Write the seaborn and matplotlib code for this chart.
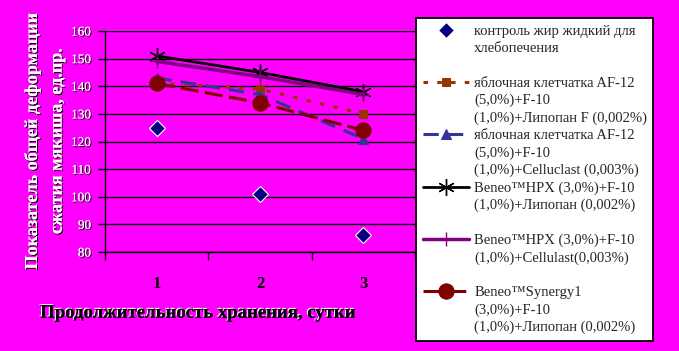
import matplotlib
matplotlib.use("Agg")
import matplotlib.pyplot as plt
import matplotlib.patheffects as pe
from matplotlib.lines import Line2D
import seaborn as sns

# Data
days = [1, 2, 3]
day_labels = ["1", "2", "3"]
control = [125, 101, 86]
af12_lipopan = [141, 139, 130]
af12_celluclast = [143, 137, 121]
hpx_lipopan = [151, 145, 138]
hpx_cellulast = [149, 143.5, 137]
synergy_lipopan = [141, 134, 124]

legend_lines = [
    ["контроль жир жидкий для", "хлебопечения", ""],
    ["яблочная клетчатка AF-12", "(5,0%)+F-10", "(1,0%)+Липопан F (0,002%)"],
    ["яблочная клетчатка AF-12", "(5,0%)+F-10", "(1,0%)+Celluclast (0,003%)"],
    ["Beneo™HPX (3,0%)+F-10", "(1,0%)+Липопан (0,002%)", ""],
    ["Beneo™HPX (3,0%)+F-10", "(1,0%)+Cellulast(0,003%)", ""],
    ["Beneo™Synergy1", "(3,0%)+F-10", "(1,0%)+Липопан (0,002%)"],
]

sns.set_style("white")
plt.rcParams["font.family"] = ["Liberation Serif", "DejaVu Serif"]

bg = "#FF00FF"
fig = plt.figure(figsize=(6.79, 3.51), dpi=100, facecolor=bg)
ax = fig.add_axes([0.1546, 0.282, 0.4566, 0.6297], facecolor=bg)

h = []
h.append(sns.lineplot(x=days, y=control, ax=ax, color="#000080", marker="D",
                      linestyle="none", markersize=8, markeredgecolor="white",
                      markeredgewidth=0.8).lines[-1])
h.append(sns.lineplot(x=days, y=af12_lipopan, ax=ax, color="#993300", marker="s",
                      markersize=6, lw=2.2, dashes=(1.5, 3),
                      markeredgecolor="#993300").lines[-1])
h.append(sns.lineplot(x=days, y=af12_celluclast, ax=ax, color="#333399", marker="^",
                      markersize=7, lw=2.2, dashes=(5, 3),
                      markeredgecolor="#333399").lines[-1])
h.append(sns.lineplot(x=days, y=hpx_lipopan, ax=ax, color="black", marker=(6, 2, 0),
                      markersize=12, lw=2, markeredgecolor="black",
                      markeredgewidth=1).lines[-1])
h.append(sns.lineplot(x=days, y=hpx_cellulast, ax=ax, color="#800080", marker="+",
                      markersize=10, lw=2.5, markeredgecolor="#800080",
                      markeredgewidth=1).lines[-1])
h.append(sns.lineplot(x=days, y=synergy_lipopan, ax=ax, color="#800000", marker="o",
                      markersize=11, lw=2.2, dashes=(6, 2),
                      markeredgecolor="#800000").lines[-1])

ax.set_xlim(0.5, 3.5)
ax.set_ylim(80, 160)
ax.set_yticks(range(80, 161, 10))
ax.set_xticks(days)
ax.set_xticklabels(day_labels)
ax.set_xticks([0.5, 1.5, 2.5, 3.5], minor=True)
ax.grid(axis="y", color="black", lw=1)
ax.set_axisbelow(True)
for s in ["top", "right"]:
    ax.spines[s].set_visible(False)
for s in ["left", "bottom"]:
    ax.spines[s].set_color("black")
    ax.spines[s].set_linewidth(1)
ax.tick_params(axis="x", which="major", length=0, pad=17, labelsize=12,
               labelcolor="black")
ax.tick_params(axis="x", which="minor", length=6, color="black", width=1,
               direction="out", bottom=True)
ax.tick_params(axis="y", length=5, color="black", width=1, direction="out",
               left=True, labelsize=9.5, labelcolor="white", pad=5)
for t in ax.get_xticklabels():
    t.set_fontweight("bold")
shadow_dark = [pe.withSimplePatchShadow(offset=(0.8, -0.8), shadow_rgbFace="black", alpha=1), pe.Normal()]
shadow_light = [pe.withSimplePatchShadow(offset=(-0.8, 0.8), shadow_rgbFace="white", alpha=1), pe.Normal()]
for t in ax.get_yticklabels():
    t.set_path_effects(shadow_dark)
ax.set_xlabel("")
ax.set_ylabel("")

fig.text(0.2916, 0.108, "Продолжительность хранения, сутки", ha="center",
         va="center", fontsize=13.5, fontweight="bold", color="black",
         path_effects=shadow_light)
fig.text(0.047, 0.595, "Показатель общей деформации", rotation=90, ha="center",
         va="center", fontsize=13, fontweight="bold", color="white",
         path_effects=shadow_dark)
fig.text(0.084, 0.595, "сжатия мякиша, ед.пр.", rotation=90, ha="center",
         va="center", fontsize=13, fontweight="bold", color="white",
         path_effects=shadow_dark)

# legend: one row per text line, handle on first line of each entry
blank = Line2D([], [], alpha=0)
handles, labels = [], []
for line, rows in zip(h, legend_lines):
    for i, txt in enumerate(rows):
        handles.append(line if i == 0 else blank)
        labels.append(txt)
leg = fig.legend(handles, labels, loc="upper left",
                 bbox_to_anchor=(0.6127, 0.03, 0.349, 0.9187), mode="expand",
                 borderaxespad=0, fontsize=10.5, frameon=True, fancybox=False,
                 framealpha=1, facecolor="white", edgecolor="black",
                 handlelength=3.2, handletextpad=0.35, labelspacing=0.28,
                 borderpad=0.45)
leg.get_frame().set_linewidth(1.3)

fig.savefig("out.png", dpi=100, facecolor=bg)
